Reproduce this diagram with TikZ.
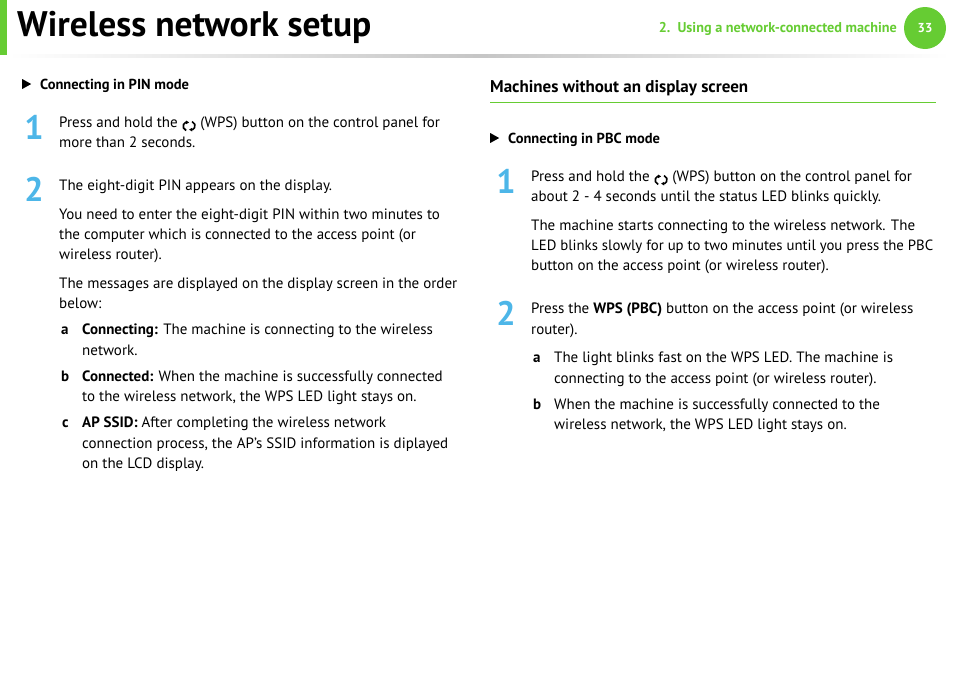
\documentclass[tikz,border=0pt]{standalone}
\usepackage{fontspec}
\setmainfont{PT Sans}
\definecolor{gr}{HTML}{66CC33}
\definecolor{bl}{HTML}{4DB6E8}
\tikzset{x=1pt,y=-1pt,
 t/.style={anchor=base west,inner sep=0pt,font=\fontsize{15}{17}\selectfont},
 num/.style={anchor=center,inner sep=0pt,text=bl,font=\fontsize{34}{34}\selectfont\bfseries},
 tri/.style={anchor=base west,inner sep=0pt,font=\fontsize{14.5}{17}\selectfont\bfseries}}
\newcommand{\wps}{\tikz[baseline=-1pt,x=1pt,y=1pt]{\draw[line width=1.6pt] (-3,4) arc (110:250:4.5);\draw[line width=1.6pt] (3,-4) arc (-70:70:4.5);\fill (-3,5.5)--(0,3.6)--(-3,1.8)--cycle;\fill (3,-5.5)--(0,-3.6)--(3,-1.8)--cycle;}}
\newcommand{\tr}{\tikz[baseline=0pt,x=1pt,y=1pt]\fill (0,0)--(0,10)--(9,5)--cycle;}
\begin{document}
\begin{tikzpicture}
\useasboundingbox (0,0) rectangle (954,675);
% header
\fill[gr] (0,0) rectangle (7,55);
\shade[left color=white,right color=gray!45] (8,54) rectangle (480,57);
\shade[left color=gray!45,right color=white] (480,54) rectangle (950,57);
\node[anchor=base west,inner sep=0pt,font=\fontsize{35.5}{35}\selectfont\bfseries] (title) at (17,36) {Wireless network setup};
\node[anchor=base east,inner sep=0pt,text=gr,font=\fontsize{13}{13}\selectfont\bfseries] (chap) at (897,32) {\resizebox{238pt}{!}{2.\ \ Using a network-connected machine}};
\node[circle,fill=gr,minimum size=42pt,inner sep=0pt,text=white,font=\fontsize{13}{13}\selectfont\bfseries] (pg) at (925,28) {33};
% left column
\node[tri] (h1) at (22,89) {\tr\hspace{9pt}Connecting in PIN mode};
\node[num] (n1) at (34,127) {1};
\node[t] (l1) at (59,127) {Press and hold the \wps\ (WPS) button on the control panel for};
\node[t] (l2) at (59,147) {more than 2 seconds.};
\node[num] (n2) at (34,189) {2};
\node[t] (l3) at (59,190) {The eight-digit PIN appears on the display.};
\node[t] (l4) at (59,219) {You need to enter the eight-digit PIN within two minutes to};
\node[t] (l5) at (59,239) {the computer which is connected to the access point (or};
\node[t] (l6) at (59,259) {wireless router).};
\node[t] (l7) at (59,288) {The messages are displayed on the display screen in the order};
\node[t] (l8) at (59,308) {below:};
\node[t] (a1) at (61,334) {\bfseries a};
\node[t] (l9) at (82,334) {\textbf{Connecting:} The machine is connecting to the wireless};
\node[t] (l10) at (82,355) {network.};
\node[t] (b1) at (61,381) {\bfseries b};
\node[t] (l11) at (82,381) {\textbf{Connected:} When the machine is successfully connected};
\node[t] (l12) at (82,401) {to the wireless network, the WPS LED light stays on.};
\node[t] (c1) at (62,427) {\bfseries c};
\node[t] (l13) at (82,427) {\textbf{AP SSID:} After completing the wireless network};
\node[t] (l14) at (82,448) {connection process, the AP's SSID information is diplayed};
\node[t] (l15) at (82,468) {on the LCD display.};
% right column
\node[anchor=base west,inner sep=0pt,font=\fontsize{17}{17}\selectfont\bfseries] (rh) at (490,92) {Machines without an display screen};
\draw[gr,line width=0.8pt] (490,102) -- (936,102);
\node[tri] (h2) at (490,143) {\tr\hspace{9pt}Connecting in PBC mode};
\node[num] (m1) at (506,181) {1};
\node[t] (r1) at (531,181) {Press and hold the \wps\ (WPS) button on the control panel for};
\node[t] (r2) at (531,201) {about 2 - 4 seconds until the status LED blinks quickly.};
\node[t] (r3) at (531,230) {The machine starts connecting to the wireless network. The};
\node[t] (r4) at (531,250) {\resizebox{402pt}{!}{LED blinks slowly for up to two minutes until you press the PBC}};
\node[t] (r5) at (531,270) {button on the access point (or wireless router).};
\node[num] (m2) at (506,313) {2};
\node[t] (r6) at (531,313) {Press the \textbf{WPS (PBC)} button on the access point (or wireless};
\node[t] (r7) at (531,334) {router).};
\node[t] (ra) at (533,362) {\bfseries a};
\node[t] (r8) at (554,362) {The light blinks fast on the WPS LED. The machine is};
\node[t] (r9) at (554,383) {connecting to the access point (or wireless router).};
\node[t] (rb) at (533,409) {\bfseries b};
\node[t] (r10) at (554,409) {When the machine is successfully connected to the};
\node[t] (r11) at (554,429) {wireless network, the WPS LED light stays on.};
\end{tikzpicture}
\end{document}
